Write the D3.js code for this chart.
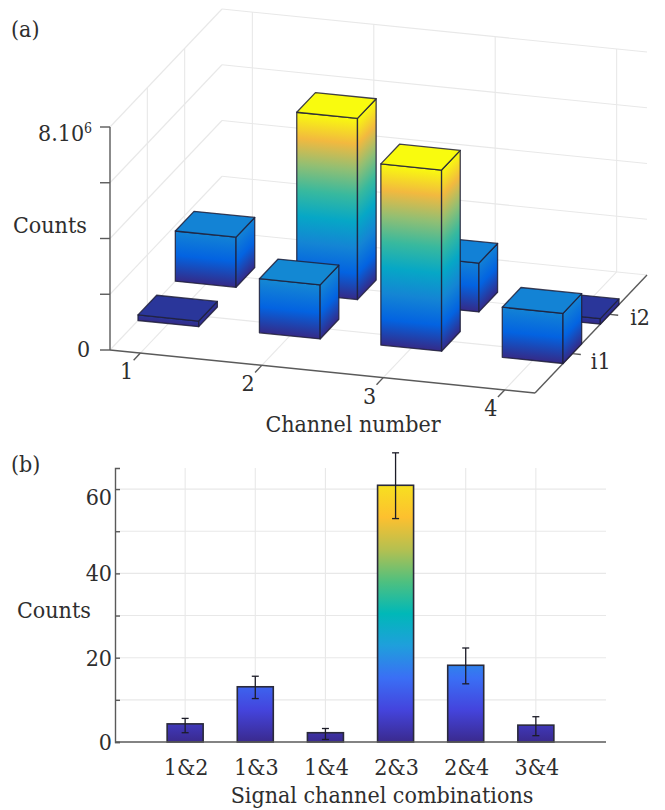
<!DOCTYPE html>
<html>
<head>
    <meta charset='utf-8' />
    <title>Counts per channel</title>
    <script src="https://cdn.jsdelivr.net/npm/d3@7"></script>
    <style>
        body {
            margin: 0;
            padding: 0;
            background: #fff;
        }

        text {
            font-family: "DejaVu Serif Condensed", "DejaVu Serif", serif;
            font-stretch: condensed;
            font-size: 23px;
            fill: #2e2e2e;
        }

        .grid {
            stroke: #e8e8e8;
            stroke-width: 1.1;
            fill: none;
        }

        .axis-line {
            stroke: #5a5a5a;
            stroke-width: 1.4;
            fill: none;
        }
    </style>
</head>

<body>
    <div id='chart'></div>
    <script>
        // panel (a)
        var channels = [1, 2, 3, 4];
        var rowLabels = ['i1', 'i2'];
        var rowValues = [1, 2];
        var countsI1 = [0.2e6, 1.94e6, 6.5e6, 1.8e6];
        var countsI2 = [1.8e6, 6.5e6, 1.75e6, 0.2e6];
        var zTicks = [0, 2e6, 4e6, 6e6, 8e6];

        // panel (b)
        var pairs = ['1&2', '1&3', '1&4', '2&3', '2&4', '3&4'];
        var pairCounts = [4.3, 13.1, 2.2, 60.9, 18.2, 4.0];
        var errLow = [2.2, 10.3, 0.6, 53, 13.8, 1.5];
        var errHigh = [5.6, 15.6, 3.2, 68.6, 22.3, 6];
        var yTicks = [0, 10, 20, 30, 40, 50, 60];
        var yTickLabels = [0, 20, 40, 60];

        // colormaps
        var parula = ['#352a87', '#0363e1', '#1485d4', '#06a7c6', '#38b99e', '#92bf73', '#f2b93f', '#f9fb0e'];
        var parulaB = ['#3a2a8e', '#4444dd', '#3a6ff5', '#1f9fdc', '#00b8b8', '#4fc07f', '#b5c050', '#fdc02f', '#f7e020'];

        var svg = d3.select('#chart').append('svg').attr('width', 665).attr('height', 810);
        var defs = svg.append('defs');

        drawPanelA();
        drawPanelB();

        function addStops(grad, colors) {
            colors.forEach(function (c, i) {
                grad.append('stop').attr('offset', i / (colors.length - 1)).attr('stop-color', c);
            });
        }

        function drawPanelA() {
            var g = svg.append('g');

            var chScale = d3.scaleLinear().domain([0.75, 4.25]).range([0, 1]);
            var rowScale = d3.scaleLinear().domain([0, 3]).range([0, 1]);
            var zScale = d3.scaleLinear().domain([0, 8e6]).range([0, 223]);
            var zMax = d3.max(countsI1.concat(countsI2));
            var color = d3.scaleLinear()
                .domain(parula.map(function (c, i) { return zMax * i / (parula.length - 1); }))
                .range(parula);

            function project(c, r, z) {
                var cs = chScale(c), rs = rowScale(r);
                return [110 + 425 * cs + 112 * rs, 350 + 43 * cs - 118 * rs - zScale(z)];
            }

            function line(a, b, cls) {
                g.append('line').attr('class', cls)
                    .attr('x1', a[0]).attr('y1', a[1]).attr('x2', b[0]).attr('y2', b[1]);
            }

            var cMin = 0.75, cMax = 4.25, rMin = 0, rMax = 3, zTop = 8e6;

            // walls and floor
            zTicks.forEach(function (z) {
                line(project(cMin, rMin, z), project(cMin, rMax, z), 'grid');
                line(project(cMin, rMax, z), project(cMax, rMax, z), 'grid');
            });
            channels.forEach(function (c) {
                line(project(c, rMin, 0), project(c, rMax, 0), 'grid');
                line(project(c, rMax, 0), project(c, rMax, zTop), 'grid');
            });
            rowValues.forEach(function (r) {
                line(project(cMin, r, 0), project(cMax, r, 0), 'grid');
                line(project(cMin, r, 0), project(cMin, r, zTop), 'grid');
            });

            // axes
            line(project(cMin, rMin, 0), project(cMin, rMin, zTop), 'axis-line');
            line(project(cMin, rMin, 0), project(cMax, rMin, 0), 'axis-line');
            line(project(cMax, rMin, 0), project(cMax, rMax, 0), 'axis-line');
            zTicks.forEach(function (z) {
                var p = project(cMin, rMin, z);
                line(p, [p[0] - 10, p[1]], 'axis-line');
            });
            channels.forEach(function (c) {
                line(project(c, rMin, 0), project(c, rMin - 0.18, 0), 'axis-line');
            });
            rowValues.forEach(function (r) {
                line(project(cMax, r, 0), project(cMax + 0.07, r, 0), 'axis-line');
            });

            // bars, back row first so the front row covers it
            var bars = [];
            channels.forEach(function (c, i) {
                bars.push({ c: c, r: rowValues[1], v: countsI2[i], id: 'i2-' + c });
            });
            channels.forEach(function (c, i) {
                bars.push({ c: c, r: rowValues[0], v: countsI1[i], id: 'i1-' + c });
            });

            var hw = 0.25;
            bars.forEach(function (b) {
                var c0 = b.c - hw, c1 = b.c + hw, r0 = b.r - hw, r1 = b.r + hw;
                var full = zScale(zMax);

                function faceGrad(id, p0, p1) {
                    var m = [p1[0] - p0[0], p1[1] - p0[1], 0, -full, p0[0], p0[1]];
                    var grad = defs.append('linearGradient').attr('id', id)
                        .attr('gradientUnits', 'userSpaceOnUse')
                        .attr('x1', 0).attr('y1', 0).attr('x2', 0).attr('y2', 1)
                        .attr('gradientTransform', 'matrix(' + m.join(' ') + ')');
                    addStops(grad, parula);
                }

                function face(pts, fill) {
                    g.append('polygon')
                        .attr('points', pts.map(function (p) { return p.join(','); }).join(' '))
                        .attr('fill', fill)
                        .attr('stroke', '#20203a')
                        .attr('stroke-opacity', 0.85)
                        .attr('stroke-width', 1.3)
                        .attr('stroke-linejoin', 'round');
                }

                faceGrad('front-' + b.id, project(c0, r0, 0), project(c1, r0, 0));
                faceGrad('side-' + b.id, project(c1, r0, 0), project(c1, r1, 0));

                face([project(c0, r0, 0), project(c1, r0, 0), project(c1, r0, b.v), project(c0, r0, b.v)],
                    'url(#front-' + b.id + ')');
                face([project(c1, r0, 0), project(c1, r1, 0), project(c1, r1, b.v), project(c1, r0, b.v)],
                    'url(#side-' + b.id + ')');
                face([project(c0, r0, b.v), project(c1, r0, b.v), project(c1, r1, b.v), project(c0, r1, b.v)],
                    color(b.v));
            });

            // labels
            channels.forEach(function (c) {
                var p = project(c, rMin - 0.18, 0);
                g.append('text').attr('x', p[0] - 7).attr('y', p[1] + 19)
                    .attr('text-anchor', 'middle').text(c);
            });
            rowValues.forEach(function (r, i) {
                var p = project(cMax + 0.07, r, 0);
                g.append('text').attr('x', p[0] + (i ? 12 : 10)).attr('y', p[1] + (i ? 10 : 14)).text(rowLabels[i]);
            });
            var top = g.append('text').attr('x', 38).attr('y', 141);
            top.append('tspan').text('8.10');
            top.append('tspan').attr('dy', -8).style('font-size', '14px').text('6');
            g.append('text').attr('x', 77).attr('y', 357).text('0');
            g.append('text').attr('x', 13).attr('y', 233).text('Counts');
            g.append('text').attr('x', 353).attr('y', 432).attr('text-anchor', 'middle').text('Channel number');
            g.append('text').attr('x', 11).attr('y', 37).text('(a)');
        }

        function drawPanelB() {
            var g = svg.append('g');

            var x = d3.scaleLinear().domain([0, pairs.length + 1]).range([115, 606]);
            var y = d3.scaleLinear().domain([0, 65]).range([742, 468]);
            var barW = 36;

            var grad = defs.append('linearGradient').attr('id', 'bar-grad')
                .attr('gradientUnits', 'userSpaceOnUse')
                .attr('x1', 0).attr('y1', y(0)).attr('x2', 0).attr('y2', y(d3.max(pairCounts)));
            addStops(grad, parulaB);

            // grid
            g.selectAll('.h-grid').data(yTicks.slice(1)).enter().append('line')
                .attr('class', 'grid')
                .attr('x1', x(0)).attr('x2', x(pairs.length + 1))
                .attr('y1', function (d) { return y(d); })
                .attr('y2', function (d) { return y(d); });
            g.selectAll('.v-grid').data(pairs).enter().append('line')
                .attr('class', 'grid')
                .attr('x1', function (d, i) { return x(i + 1); })
                .attr('x2', function (d, i) { return x(i + 1); })
                .attr('y1', y(65)).attr('y2', y(0));

            // bars
            g.selectAll('.bar').data(pairCounts).enter().append('rect')
                .attr('x', function (d, i) { return x(i + 1) - barW / 2; })
                .attr('y', function (d) { return y(d); })
                .attr('width', barW)
                .attr('height', function (d) { return y(0) - y(d); })
                .attr('fill', 'url(#bar-grad)')
                .attr('stroke', '#2a2a3a')
                .attr('stroke-width', 1.6);

            // axes
            var yAxis = d3.axisRight(y).tickValues(yTicks).tickSize(5).tickFormat('');
            g.append('g').attr('transform', 'translate(' + x(0) + ',0)').call(yAxis)
                .call(function (s) {
                    s.selectAll('line, path').attr('stroke', '#5a5a5a').attr('stroke-width', 1.4);
                });
            g.append('line').attr('class', 'axis-line')
                .attr('x1', x(0)).attr('x2', x(pairs.length + 1))
                .attr('y1', y(0)).attr('y2', y(0));

            // error bars
            var capW = 3.5;
            pairs.forEach(function (p, i) {
                var cx = x(i + 1);
                var eg = g.append('g').attr('stroke', '#1c1c28').attr('stroke-width', 1.3);
                eg.append('line').attr('x1', cx).attr('x2', cx).attr('y1', y(errLow[i])).attr('y2', y(errHigh[i]));
                eg.append('line').attr('x1', cx - capW).attr('x2', cx + capW).attr('y1', y(errLow[i])).attr('y2', y(errLow[i]));
                eg.append('line').attr('x1', cx - capW).attr('x2', cx + capW).attr('y1', y(errHigh[i])).attr('y2', y(errHigh[i]));
            });

            // labels
            g.selectAll('.x-label').data(pairs).enter().append('text')
                .attr('x', function (d, i) { return x(i + 1) + 1; })
                .attr('y', 775)
                .attr('text-anchor', 'middle')
                .text(function (d) { return d; });
            g.selectAll('.y-label').data(yTickLabels).enter().append('text')
                .attr('x', 112)
                .attr('y', function (d) { return y(d) + (d == 60 ? 16 : 8); })
                .attr('text-anchor', 'end')
                .text(function (d) { return d; });
            g.append('text').attr('x', 17).attr('y', 618).text('Counts');
            g.append('text').attr('x', 382).attr('y', 803).attr('text-anchor', 'middle').text('Signal channel combinations');
            g.append('text').attr('x', 11).attr('y', 472).text('(b)');
        }
    </script>
</body>
</html>
